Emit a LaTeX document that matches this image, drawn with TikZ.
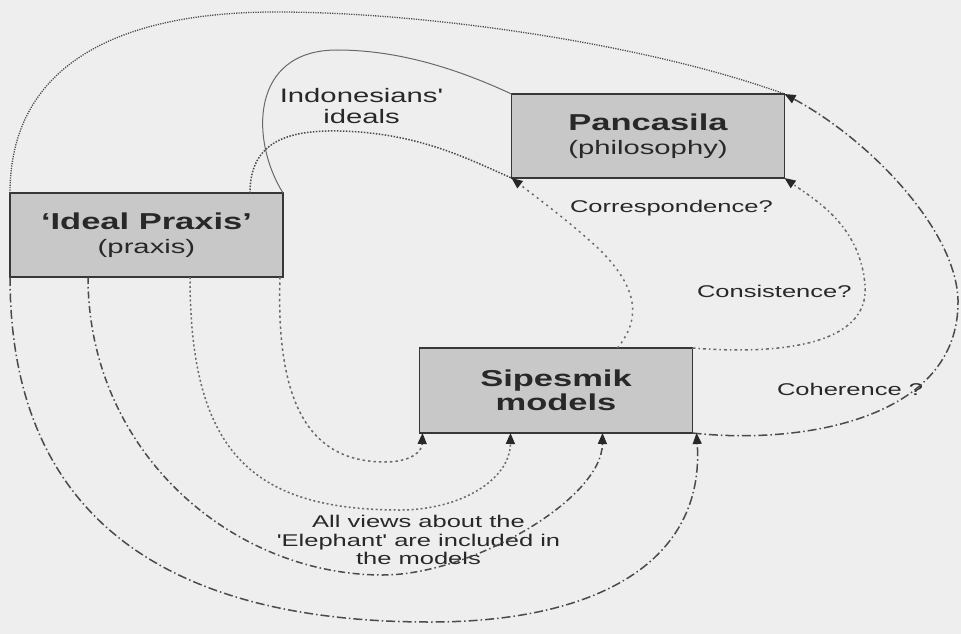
\documentclass[tikz,border=0pt]{standalone}
\usepackage{fontspec}
\setmainfont{Liberation Sans}[FakeStretch=1.5]
\newfontfamily\labelf{Liberation Sans}[FakeStretch=1.5]
\usetikzlibrary{arrows.meta,calc}

\definecolor{paper}{RGB}{238,238,238}
\definecolor{boxfill}{RGB}{200,200,200}
\definecolor{boxline}{RGB}{55,55,55}
\definecolor{ink}{RGB}{40,40,40}
\definecolor{wire}{RGB}{105,105,105}
\definecolor{wiredark}{RGB}{75,75,75}

\newcommand{\subline}{\mdseries\fontsize{19.5}{24}\selectfont}

\tikzset{
  conceptbox/.style={draw=boxline, line width=1.6pt, fill=boxfill,
    minimum width=273pt, minimum height=84pt, inner sep=0pt, outer sep=0pt,
    align=center, text=ink, font=\fontsize{23}{24}\selectfont\bfseries},
  lbl/.style={text=ink, inner sep=0pt, outer sep=0pt, font=\labelf\fontsize{17}{18.5}\selectfont},
  biglbl/.style={text=ink, inner sep=0pt, outer sep=0pt, align=center, font=\labelf\fontsize{19.5}{21}\selectfont},
  arrowtip/.style={-{Triangle[length=11pt,width=9pt,color=ink]}},
  dotfine/.style={line width=1.3pt, color=wiredark, dash pattern=on 1.2pt off 1.2pt},
  idealline/.style={line width=1pt, color=wire},
  dotideal/.style={line width=1.5pt, color=wiredark, dash pattern=on 1.5pt off 1.5pt},
  corrline/.style={line width=1.5pt, color=wire, dash pattern=on 2pt off 4pt},
  consline/.style={line width=1.5pt, color=wire, dash pattern=on 3pt off 3pt on 1.5pt off 3pt},
  cohline/.style={line width=1.5pt, color=wiredark, dash pattern=on 9pt off 3pt on 1.5pt off 3pt},
  viewlineA/.style={line width=1.5pt, color=wiredark, dash pattern=on 9pt off 3pt on 1.5pt off 3pt},
  viewlineB/.style={line width=1.5pt, color=wiredark, dash pattern=on 7pt off 3pt on 1.5pt off 3pt},
  viewlineC/.style={line width=1.5pt, color=wire, dash pattern=on 2pt off 2.5pt},
  viewlineD/.style={line width=1.5pt, color=wire, dash pattern=on 2.5pt off 3pt},
}

\begin{document}
\begin{tikzpicture}[x=1pt, y=-1pt]
  % canvas
  \fill[paper] (0,0) rectangle (961,634);
  \useasboundingbox (0,0) rectangle (961,634);

  % the three concept boxes
  \node[conceptbox] (praxis) at (146.5,235) {‘Ideal Praxis’\\\subline (praxis)};
  \node[conceptbox] (panca)  at (648,136)   {Pancasila\\\subline (philosophy)};
  \node[conceptbox, minimum height=85pt] (sipes) at (556,390.5) {Sipesmik\\models};

  % labels
  \node[biglbl] (lblideals) at (361.5,106.4) {Indonesians'\\ideals};
  \node[lbl, anchor=base west] (lblcorr) at (570,212) {Correspondence?};
  \node[lbl, anchor=base west] (lblcons) at (697,297) {Consistence?};
  \node[lbl, anchor=base west] (lblcoh)  at (777,395) {Coherence ?};
  \node[lbl, align=center] (lblviews) at (418.5,540.3)
    {All views about the\\'Elephant' are included in\\the models};

  % praxis -> philosophy
  \draw[dotfine] (praxis.north west) .. controls (10,70) and (110,12) .. (276,12)
    .. controls (430,12) and (650,45) .. (panca.north east);
  \draw[idealline] (praxis.north east) .. controls (250,140) and (250,50) .. (337,50)
    .. controls (400,50) and (460,70) .. (panca.north west);
  \draw[dotideal] ($(praxis.north west)+(240,0)$) .. controls (250,140) and (290,130) .. (340,131)
    .. controls (420,133) and (470,160) .. (panca.south west);

  % models -> philosophy
  \draw[corrline, arrowtip] ($(sipes.north west)+(198,0)$) .. controls (640,320) and (640,290) .. (600,250)
    .. controls (570,222) and (540,200) .. (panca.south west);
  \draw[consline, arrowtip] (sipes.north east) .. controls (780,355) and (870,345) .. (865,285)
    .. controls (860,225) and (815,200) .. (panca.south east);
  \draw[cohline, arrowtip] (sipes.south east) .. controls (800,445) and (960,420) .. (958,300)
    .. controls (956,230) and (870,140) .. (panca.north east);

  % praxis -> models
  \draw[viewlineA, arrowtip] (praxis.south west) .. controls (10,520) and (170,622) .. (430,622)
    .. controls (600,622) and (705,560) .. ($(sipes.south east)+(4,0)$);
  \draw[viewlineB, arrowtip] ($(praxis.south west)+(78,0)$) .. controls (88,450) and (230,575) .. (383,575)
    .. controls (470,575) and (602,500) .. ($(sipes.south west)+(183,0)$);
  \draw[viewlineC, arrowtip] ($(praxis.south west)+(180,0)$) .. controls (190,450) and (250,510) .. (400,510)
    .. controls (460,510) and (510,480) .. ($(sipes.south west)+(91,0)$);
  \draw[viewlineD, arrowtip] ($(praxis.south east)+(-3,0)$) .. controls (275,420) and (320,462) .. (385,462)
    .. controls (410,462) and (422,452) .. ($(sipes.south west)+(3,0)$);
\end{tikzpicture}
\end{document}
